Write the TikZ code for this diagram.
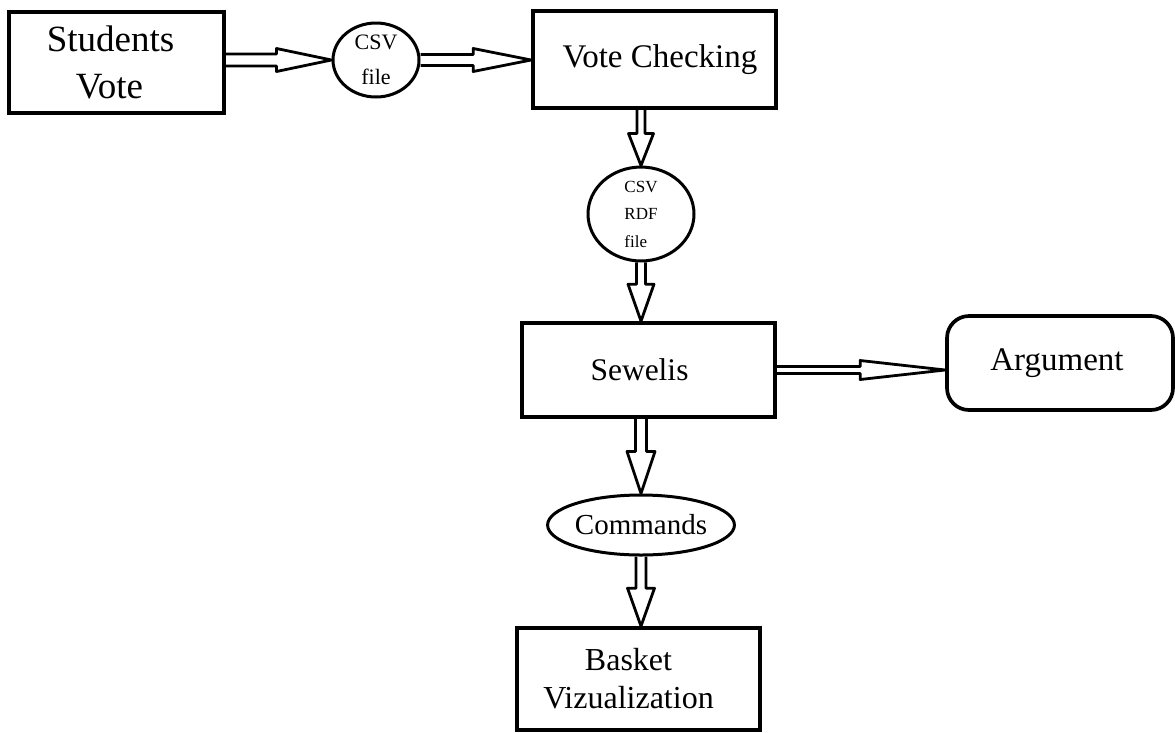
\documentclass[tikz,border=0pt]{standalone}
\usepackage{fontspec}
\setmainfont{Liberation Serif}
\usetikzlibrary{calc,shapes.geometric}
\newcommand{\shiftline}[2]{\makebox[0pt]{\kern#1#2}}
\tikzset{
  box/.style={draw, line width=3.7pt, rectangle, inner sep=0pt, align=center},
  oval/.style={draw, line width=3pt, ellipse, inner sep=0pt, align=center},
  blockarrow/.style n args={3}{line width=2.8pt, line join=round, to path={
    ($(\tikztostart)!#1!90:(\tikztotarget)$)
    -- ($($(\tikztotarget)!#2!(\tikztostart)$)!#1!90:(\tikztotarget)$)
    -- ($($(\tikztotarget)!#2!(\tikztostart)$)!#3!90:(\tikztotarget)$)
    -- (\tikztotarget)
    -- ($($(\tikztotarget)!#2!(\tikztostart)$)!#3!-90:(\tikztotarget)$)
    -- ($($(\tikztotarget)!#2!(\tikztostart)$)!#1!-90:(\tikztotarget)$)
    -- ($(\tikztostart)!#1!-90:(\tikztotarget)$)
  }}
}
\begin{document}
\begin{tikzpicture}[x=1pt,y=-1pt]
\fill[white] (0,0) rectangle (1175,732);
\useasboundingbox (0,0) rectangle (1175,732);

\node[box, minimum width=215pt, minimum height=101pt, font=\fontsize{37}{47}\selectfont] (sv) at (116.5,62.5) {\raisebox{-3pt}{\shiftline{-12pt}{Students}}\\\raisebox{-3pt}{\shiftline{-14pt}{Vote}}};
\node[oval, minimum width=86pt, minimum height=74pt, font=\fontsize{22}{35}\selectfont] (csv1) at (376,60) {CSV\\file};
\node[box, minimum width=243pt, minimum height=97pt, font=\fontsize{33}{38}\selectfont] (vc) at (654.5,59.5) {\shiftline{11pt}{Vote Checking}};
\node[oval, minimum width=106pt, minimum height=83pt, align=left, font=\fontsize{17}{27.5}\selectfont] (rdf) at (641,214) {CSV\\RDF\\file};
\node[box, minimum width=253pt, minimum height=94pt, font=\fontsize{31.5}{38}\selectfont] (sew) at (648.5,370) {\shiftline{-18pt}{Sewelis}};
\node[box, rounded corners=22pt, minimum width=226pt, minimum height=94pt, font=\fontsize{33}{38}\selectfont] (arg) at (1060,363) {\shiftline{-6pt}{Argument}};
\node[oval, minimum width=172pt, minimum height=60pt, font=\fontsize{29}{34}\selectfont] (cmd) at (641,525) {Commands};
\node[box, minimum width=243pt, minimum height=102pt, font=\fontsize{32}{38}\selectfont] (bv) at (638.5,679) {\shiftline{-20pt}{Basket}\\\shiftline{-20pt}{Vizualization}};

\draw[blockarrow={6pt}{55pt}{11.5pt}] (sv.east |- csv1) to (csv1.west);
\draw[blockarrow={5.5pt}{58pt}{11.5pt}] (csv1.east) to (vc.west |- csv1);
\draw[blockarrow={4pt}{32pt}{12.5pt}] (vc.south -| rdf) to (rdf.north);
\draw[blockarrow={4.5pt}{37pt}{13pt}] (rdf.south) to (sew.north -| rdf);
\draw[blockarrow={3.5pt}{85pt}{9.5pt}] (sew.east) to (arg.west |- sew.east);
\draw[blockarrow={5.5pt}{42pt}{14pt}] (sew.south -| cmd) to (cmd.north);
\draw[blockarrow={5pt}{38pt}{13.5pt}] (cmd.south) to (bv.north -| cmd);
\end{tikzpicture}
\end{document}
